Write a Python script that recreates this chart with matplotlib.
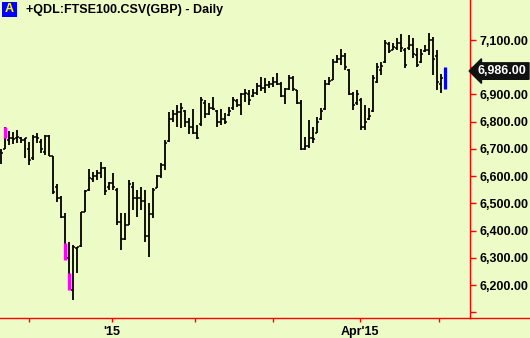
import matplotlib
matplotlib.use("Agg")
import matplotlib.pyplot as plt
from matplotlib.collections import LineCollection
from matplotlib.transforms import blended_transform_factory
from matplotlib.patches import Rectangle
from matplotlib.lines import Line2D

opens = [6690, 6700, 6733, 6740, 6740, 6740, 6733, 6700, 6667, 6744,
         6725, 6690, 6748, 6674, 6560, 6520, 6450, 6300, 6182, 6335,
         6345, 6470, 6549, 6590, 6600, 6610, 6630, 6560, 6575, 6550,
         6430, 6370, 6420, 6560, 6520, 6520, 6510, 6380, 6460, 6556,
         6600, 6640, 6730, 6810, 6830, 6836, 6840, 6800, 6780, 6760,
         6790, 6870, 6830, 6850, 6840, 6800, 6810, 6825, 6850, 6875,
         6860, 6900, 6900, 6895, 6905, 6930, 6925, 6935, 6940, 6945,
         6940, 6895, 6920, 6960, 6915, 6870, 6700, 6710, 6740, 6760,
         6810, 6845, 6940, 6955, 7020, 7030, 7040, 6990, 6900, 6870,
         6880, 6780, 6810, 6840, 6945, 6990, 7020, 7085, 7065, 7070,
         7090, 7065, 7070, 7080, 7045, 7020, 7060, 7065, 7100, 7040,
         6940, 6930]
highs = [6700, 6780, 6766, 6762, 6769, 6744, 6740, 6725, 6751, 6758,
         6736, 6751, 6751, 6674, 6571, 6527, 6465, 6358, 6347, 6340,
         6468, 6549, 6626, 6615, 6623, 6652, 6634, 6578, 6610, 6556,
         6465, 6465, 6586, 6578, 6549, 6560, 6549, 6501, 6556, 6604,
         6648, 6733, 6836, 6843, 6861, 6868, 6843, 6814, 6846, 6788,
         6891, 6880, 6868, 6891, 6843, 6846, 6832, 6854, 6891, 6883,
         6905, 6920, 6916, 6920, 6942, 6964, 6960, 6949, 6964, 6979,
         6946, 6924, 6971, 6968, 6916, 6880, 6744, 6806, 6780, 6817,
         6850, 6953, 6964, 7030, 7045, 7067, 7052, 6993, 6909, 6916,
         6887, 6861, 6850, 6971, 7016, 7019, 7100, 7093, 7089, 7107,
         7122, 7071, 7118, 7107, 7071, 7067, 7082, 7126, 7111, 7063,
         6975, 7001]
lows = [6645, 6700, 6714, 6718, 6722, 6722, 6667, 6641, 6659, 6722,
        6685, 6678, 6674, 6534, 6505, 6446, 6292, 6182, 6145, 6244,
        6340, 6468, 6545, 6578, 6586, 6593, 6531, 6549, 6549, 6420,
        6329, 6365, 6420, 6476, 6450, 6476, 6358, 6303, 6446, 6556,
        6593, 6623, 6725, 6799, 6780, 6777, 6780, 6755, 6755, 6736,
        6784, 6814, 6825, 6843, 6780, 6788, 6792, 6821, 6843, 6854,
        6825, 6872, 6861, 6891, 6898, 6913, 6905, 6924, 6927, 6935,
        6891, 6865, 6916, 6913, 6865, 6696, 6696, 6705, 6722, 6758,
        6806, 6843, 6935, 6953, 7016, 7008, 6990, 6898, 6843, 6861,
        6769, 6769, 6806, 6836, 6942, 6971, 7016, 7052, 7063, 7063,
        7056, 6997, 7063, 7034, 7001, 7016, 7056, 7045, 6972, 6916,
        6905, 6920]
closes = [6685, 6750, 6740, 6736, 6744, 6733, 6740, 6659, 6744, 6740,
          6700, 6748, 6674, 6540, 6520, 6450, 6300, 6200, 6340, 6340,
          6468, 6545, 6593, 6600, 6610, 6630, 6545, 6575, 6560, 6430,
          6370, 6420, 6570, 6520, 6520, 6510, 6380, 6460, 6550, 6600,
          6640, 6720, 6810, 6830, 6836, 6850, 6800, 6780, 6760, 6740,
          6880, 6830, 6850, 6845, 6800, 6810, 6800, 6840, 6880, 6860,
          6900, 6905, 6880, 6905, 6930, 6925, 6935, 6940, 6945, 6940,
          6895, 6920, 6960, 6920, 6870, 6700, 6710, 6740, 6735, 6800,
          6840, 6940, 6950, 7020, 7030, 7040, 7000, 6900, 6860, 6900,
          6780, 6800, 6820, 6960, 7000, 7005, 7090, 7060, 7075, 7090,
          7070, 7010, 7080, 7050, 7010, 7050, 7065, 7100, 7030, 6946,
          6960, 6986]

# highlighted (magenta) bar segments
mark_idx = [1, 16, 17]
mark_hi = [6780, 6354, 6244]
mark_lo = [6740, 6292, 6182]

ytick_vals = [6100, 6200, 6300, 6400, 6500, 6600, 6700, 6800, 6900, 7000, 7100]
xtick_pos = [7.1, 27.7, 48.5, 68.1, 89.75, 109.6]
xtick_labels = ["", "'15", "", "", "Apr'15", ""]
last_price = 6986.0
title = "+QDL:FTSE100.CSV(GBP) - Daily"

BG = "#EDFBC6"
W, H = 530, 338
fig = plt.figure(figsize=(W / 100, H / 100), dpi=100, facecolor=BG)
ax = fig.add_axes([0, 20 / H, 470 / W, 318 / H])
ax.set_facecolor(BG)
ax.set_xlim(-0.25, 117.25)
ax.set_ylim(6079, 7247)

n = len(opens)
segs_v, segs_o, segs_c = [], [], []
for i in range(n - 1):
    segs_v.append([(i, lows[i]), (i, highs[i])])
    segs_o.append([(i - 0.6, opens[i]), (i, opens[i])])
    segs_c.append([(i, closes[i]), (i + 0.6, closes[i])])
ax.add_collection(LineCollection(segs_v, colors="black", linewidths=1.3, capstyle="butt"))
ax.add_collection(LineCollection(segs_o + segs_c, colors="black", linewidths=1.1, capstyle="butt"))

# magenta highlights
ax.add_collection(LineCollection([[(i, lo), (i, hi)] for i, lo, hi in zip(mark_idx, mark_lo, mark_hi)],
                                 colors="#FF00FF", linewidths=2.4, capstyle="butt"))
# last bar in blue
j = n - 1
ax.add_collection(LineCollection([[(j, lows[j]), (j, highs[j])]], colors="#0000FF",
                                 linewidths=2.3, capstyle="butt"))

for s in ["top", "left"]:
    ax.spines[s].set_visible(False)
for s in ["right", "bottom"]:
    ax.spines[s].set_color("#FF0000")
    ax.spines[s].set_linewidth(1.0)

fp = dict(family="Liberation Sans", weight="bold", size=9)
ax.yaxis.tick_right()
ax.set_yticks(ytick_vals)
ax.set_yticklabels(["" if v == 6100 else f"{v:,.2f}" for v in ytick_vals], fontdict=fp)
ax.tick_params(axis="y", colors="#FF0000", labelcolor="black", length=4, width=1, pad=3, direction="out")
ax.set_xticks(xtick_pos)
ax.set_xticklabels(xtick_labels, fontdict=fp)
ax.tick_params(axis="x", colors="#FF0000", labelcolor="black", length=3, width=1, pad=3, direction="out")

# extend bottom line to figure right edge
fig.add_artist(Line2D([470 / W, 1.0], [20 / H, 20 / H], color="#FF0000", lw=1.0, transform=fig.transFigure))

# last price tag
tr = blended_transform_factory(ax.transAxes, ax.transData)
ax.text(1.0 + 8 / 470, last_price, f"{last_price:,.2f}", transform=tr, ha="left", va="center",
        color="white", fontdict=fp, clip_on=False,
        bbox=dict(boxstyle="larrow,pad=0.18", fc="#111111", ec="#111111"))

# title with "A" box
fig.add_artist(Rectangle((2 / W, 1 - 17 / H), 15 / W, 15 / H, transform=fig.transFigure,
                         fc="#0000FF", ec="none"))
fig.text(9.5 / W, 1 - 9.5 / H, "A", ha="center", va="center", color="#FFFF00", fontdict=fp)
fig.text(26 / W, 1 - 9.5 / H, title, ha="left", va="center", color="black", fontdict=fp)

fig.savefig("out.png", dpi=100, facecolor=BG)
